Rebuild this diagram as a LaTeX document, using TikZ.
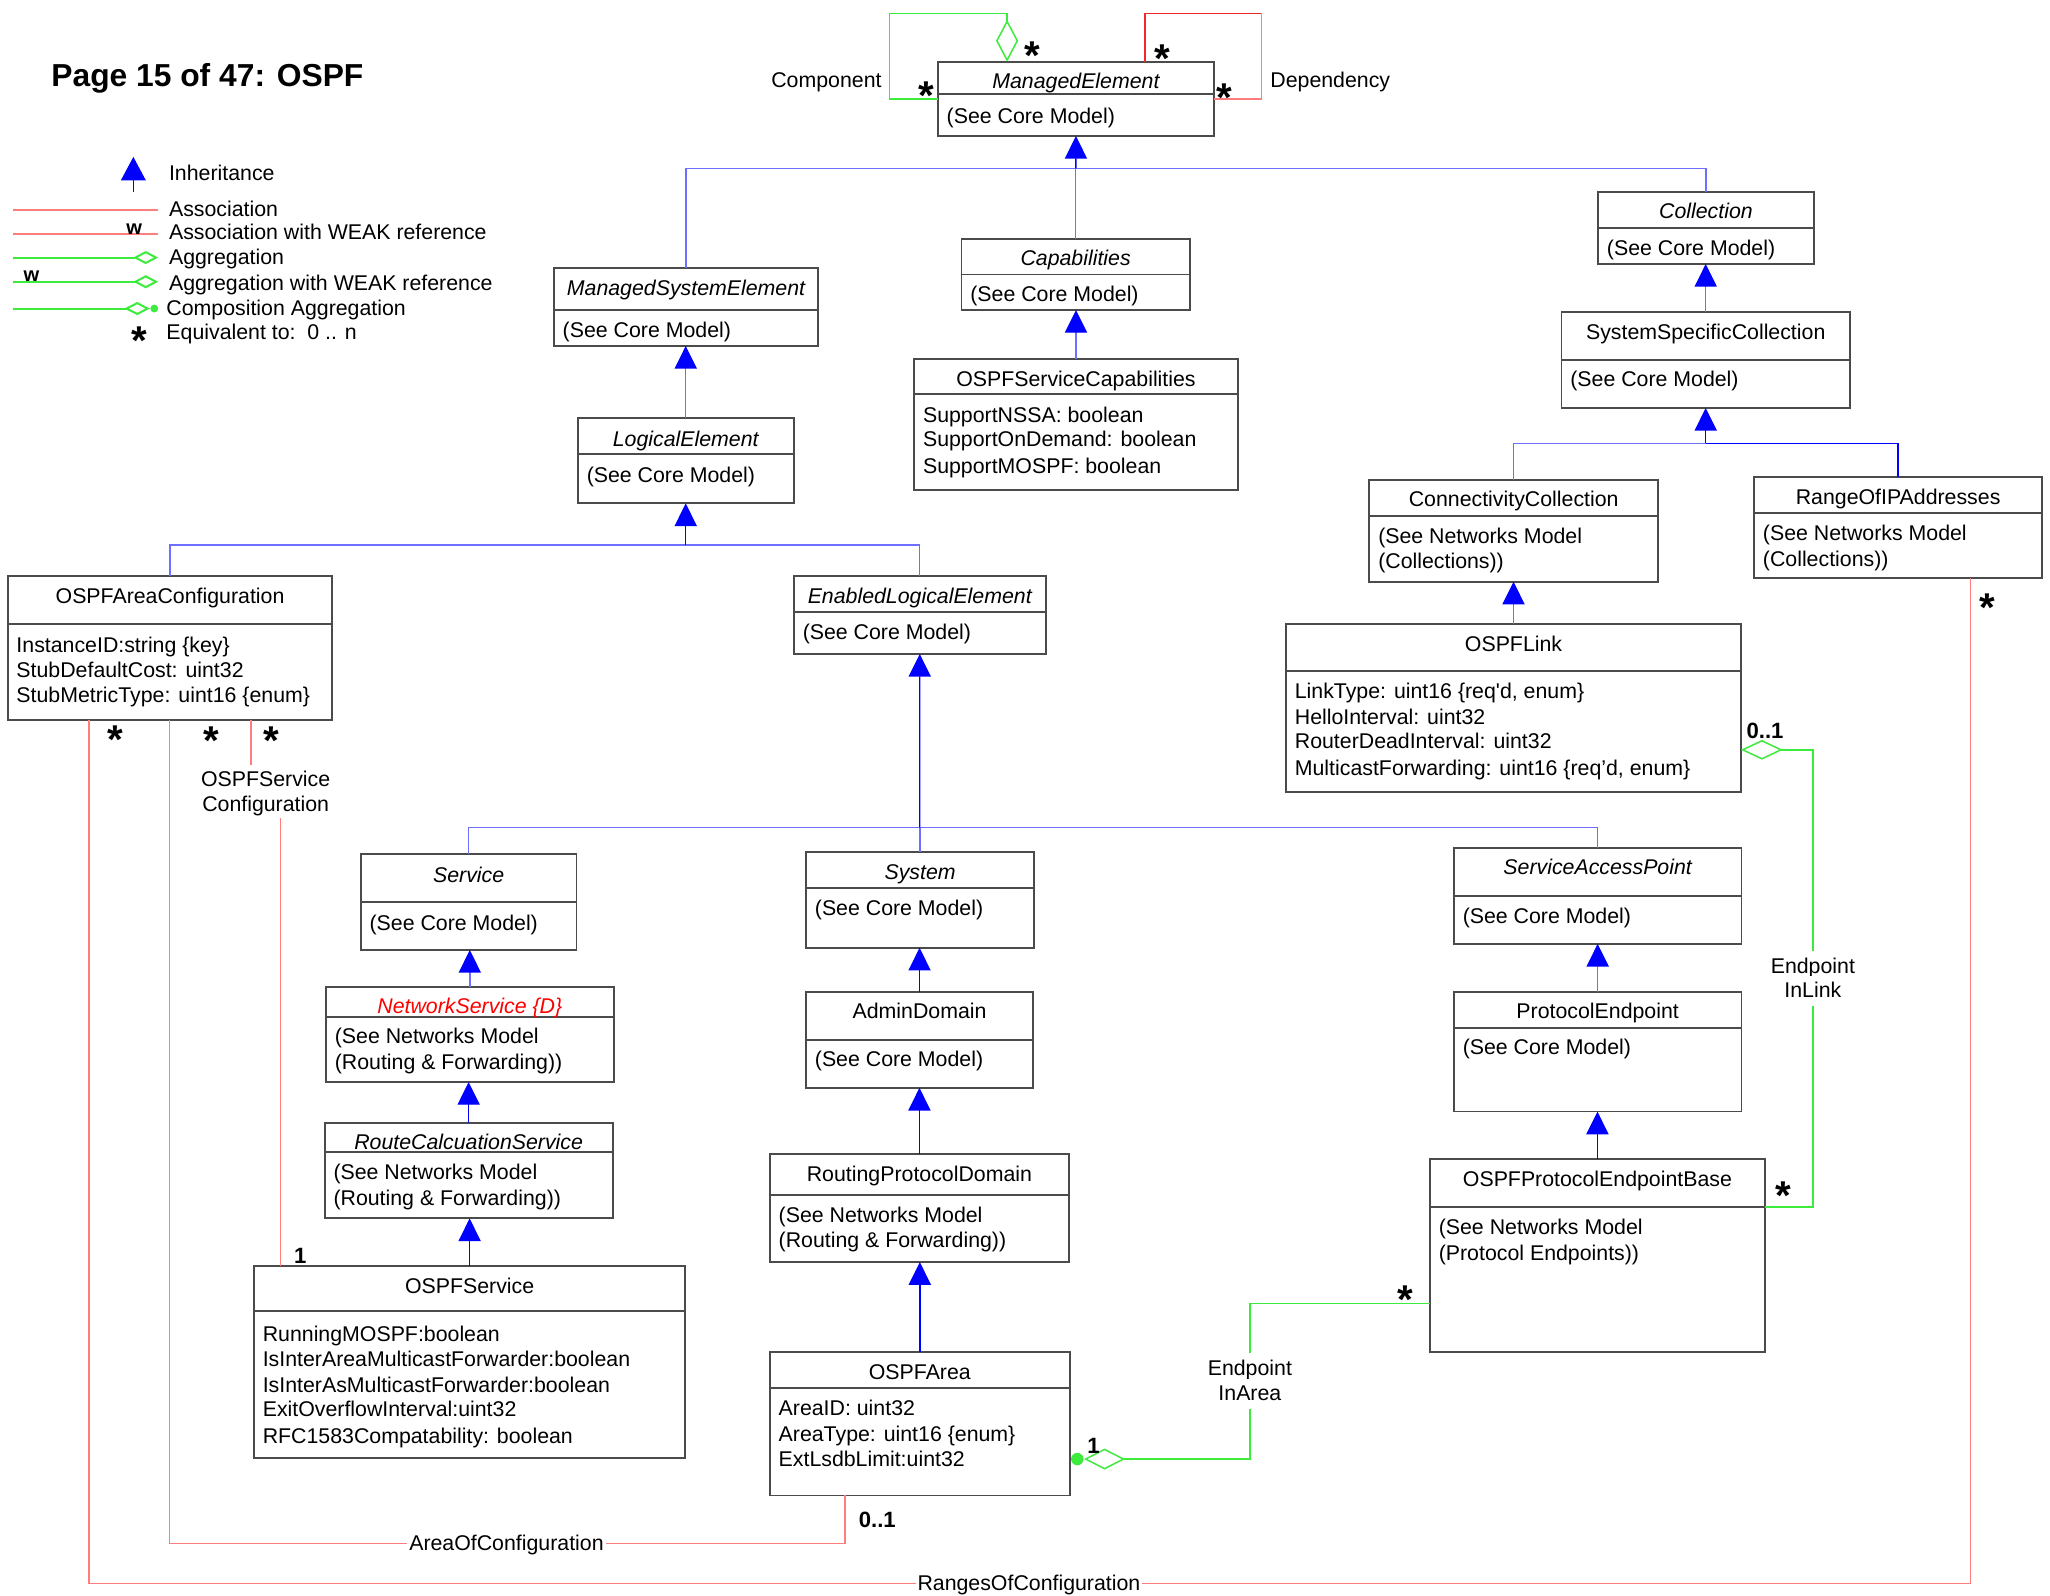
\documentclass[tikz,border=0pt]{standalone}
\usepackage{fontspec}
\setmainfont{Liberation Sans}
\usetikzlibrary{arrows.meta,fit}
\definecolor{inhlc}{RGB}{110,110,255}
\definecolor{inhdc}{RGB}{0,0,255}
\definecolor{assocc}{RGB}{255,125,125}
\definecolor{depc}{RGB}{240,40,40}
\definecolor{aggc}{RGB}{60,235,60}
\definecolor{boxc}{RGB}{75,75,75}
\definecolor{nsred}{RGB}{255,0,0}
\tikzset{
  box/.style={draw=boxc, line width=0.9pt, inner sep=0pt, outer sep=0pt},
  boxline/.style={draw=boxc, line width=0.9pt},
  txt/.style={inner sep=0pt, text height=7pt, text depth=0pt, font=\fontsize{10.6}{12.7}\selectfont},
  it/.style={font=\fontsize{10.6}{12.7}\selectfont\itshape},
  mult/.style={inner sep=0pt, text height=6pt, text depth=0pt, font=\bfseries\fontsize{20}{22}\selectfont},
  multn/.style={inner sep=0pt, text height=7.9pt, text depth=0pt, font=\bfseries\fontsize{11}{13}\selectfont},
  wst/.style={inner sep=0pt, font=\bfseries\fontsize{10}{12}\selectfont, anchor=base},
  inhl/.style={draw=inhlc, line width=0.7pt},
  inhd/.style={draw=inhdc, line width=0.7pt},
  inhtip/.style={-{Triangle[length=11.3pt,width=11pt,color=inhdc]}},
  assocline/.style={draw=assocc, line width=0.75pt},
  depline/.style={draw=depc, line width=0.75pt},
  aggline/.style={draw=aggc, line width=0.75pt},
  lab/.style={txt, fill=white, inner xsep=1pt},
  vlab/.style={txt, fill=white, inner xsep=1pt, inner ysep=4pt},
}
\newcounter{tn}
\newcommand\T[4][]{\stepcounter{tn}\node[txt,#1] (t\arabic{tn}) at (#2,#3) {#4};}
\newcommand\cls[6]{\node[box, fit={(#2,#3) (#4,#5)}] (#1) {};\draw[boxline] (#2,#6) -- (#4,#6);}
\newcommand\ST[3]{\node[mult, anchor=base] (#1) at (#2,#3+17) {\smash{*}};}
\newcommand\NM[4]{\node[multn] (#1) at (#2,#3) {#4};}
\begin{document}
\begin{tikzpicture}[x=0.65pt,y=-0.65pt]
\useasboundingbox (0,0) rectangle (1568,1220);

% ---------- title ----------
\node[font=\bfseries\fontsize{15.8}{19}\selectfont, anchor=base west, inner sep=0pt] (title) at (39,66) {Page 15 of 47: OSPF};

% ---------- legend ----------
\coordinate (lgI1) at (102,147); \coordinate (lgI2) at (102,120);
\draw[inhd, -{Triangle[length=11.7pt,width=12.3pt,color=inhdc]}] (lgI1) -- (lgI2);
\T[anchor=west]{129}{132.6}{Inheritance}
\coordinate (lgA1) at (10,160.6); \coordinate (lgA2) at (121,160.6);
\draw[assocline, line width=1pt] (lgA1) -- (lgA2);
\T[anchor=west]{129}{160}{Association}
\coordinate (lgW1) at (10,179); \coordinate (lgW2) at (121,179);
\draw[assocline, line width=1pt] (lgW1) -- (lgW2);
\node[wst] (lgw1) at (102.6,179) {w};
\T[anchor=west]{129}{178}{Association with WEAK reference}
\coordinate (lgG1) at (10,197); \coordinate (lgG2) at (121,197);
\draw[aggline, line width=1pt, -{Diamond[open,length=12.4pt,width=6.5pt]}] (lgG1) -- (lgG2);
\T[anchor=west]{129}{197}{Aggregation}
\coordinate (lgGW1) at (10,215.5); \coordinate (lgGW2) at (121,215.5);
\draw[aggline, line width=1pt, -{Diamond[open,length=12.4pt,width=6.5pt]}] (lgGW1) -- (lgGW2);
\node[wst] (lgw2) at (24,215.5) {w};
\T[anchor=west]{129}{217}{Aggregation with WEAK reference}
\coordinate (lgC1) at (10,236);
\node[circle, fill=aggc, inner sep=0pt, minimum size=3.9pt] (lgcir) at (118,236) {};
\draw[aggline, line width=1pt, -{Diamond[open,length=12.7pt,width=6.5pt]}] (lgC1) -- (lgcir.west);
\T[anchor=west]{127}{236}{Composition Aggregation}
\ST{lgst}{106.5}{254}
\T[anchor=west]{127}{254}{Equivalent to:\ \ 0 .. n}

% ---------- classes ----------
\cls{me}{717.3}{47.2}{928.6}{104}{72.1}
\T[it]{822.95}{62.5}{ManagedElement}
\T[anchor=west]{723.8}{89.2}{(See Core Model)}

\cls{caps}{735.4}{182.5}{910}{237.1}{210}
\T[it]{822.7}{198}{Capabilities}
\T[anchor=west]{741.9}{225.6}{(See Core Model)}

\cls{mse}{423.6}{205.2}{625.8}{264.6}{237.1}
\T[it]{524.7}{221}{ManagedSystemElement}
\T[anchor=west]{430.1}{252.9}{(See Core Model)}

\cls{coll}{1222.3}{146.9}{1387.4}{201.9}{174.4}
\T[it]{1304.85}{161.9}{Collection}
\T[anchor=west]{1228.8}{190}{(See Core Model)}

\cls{ssc}{1194.3}{238.4}{1415}{312}{275.6}
\T{1304.65}{254.2}{SystemSpecificCollection}
\T[anchor=west]{1200.8}{290.6}{(See Core Model)}

\cls{osc}{699.2}{274.6}{946.8}{374.8}{301.6}
\T{823}{289.9}{OSPFServiceCapabilities}
\T[anchor=west]{705.7}{317.4}{SupportNSSA: boolean}
\T[anchor=west]{705.7}{336.5}{SupportOnDemand: boolean}
\T[anchor=west]{705.7}{356.4}{SupportMOSPF: boolean}

\cls{le}{442}{320}{607}{385}{347.5}
\T[it]{524.5}{335.8}{LogicalElement}
\T[anchor=west]{448.5}{363.3}{(See Core Model)}

\cls{cc}{1047.4}{367.1}{1268.2}{444.9}{394.7}
\T{1157.8}{382.4}{ConnectivityCollection}
\T[anchor=west]{1053.9}{410}{(See Networks Model}
\T[anchor=west]{1053.9}{429.6}{(Collections))}

\cls{roip}{1341.6}{364.6}{1562}{442.3}{392.1}
\T{1451.8}{380.4}{RangeOfIPAddresses}
\T[anchor=west]{1348.1}{408}{(See Networks Model}
\T[anchor=west]{1348.1}{427.8}{(Collections))}

\cls{oac}{6.1}{440.3}{254}{550.7}{477.3}
\T{130.05}{455.9}{OSPFAreaConfiguration}
\T[anchor=west]{12.3}{493.4}{InstanceID:string \{key\}}
\T[anchor=west]{12.3}{512.5}{StubDefaultCost: uint32}
\T[anchor=west]{12.3}{531.6}{StubMetricType: uint16 \{enum\}}

\cls{ele}{607.2}{440.3}{799.8}{500.2}{468.1}
\T[it]{703.5}{456.4}{EnabledLogicalElement}
\T[anchor=west]{613.7}{483.6}{(See Core Model)}

\cls{link}{983.7}{477.3}{1331.6}{605.5}{513}
\T{1157.65}{492.6}{OSPFLink}
\T[anchor=west]{990.1}{529}{LinkType: uint16 \{req\textquotesingle d, enum\}}
\T[anchor=west]{990.1}{548.7}{HelloInterval: uint32}
\T[anchor=west]{990.1}{567.3}{RouterDeadInterval: uint32}
\T[anchor=west]{990.1}{587.7}{MulticastForwarding: uint16 \{req’d, enum\}}

\cls{svc}{275.9}{653.2}{441}{726.6}{690}
\T[it]{358.45}{669.3}{Service}
\T[anchor=west]{282.4}{706}{(See Core Model)}

\cls{sys}{616.5}{651.7}{791}{724.9}{679}
\T[it]{703.75}{667}{System}
\T[anchor=west]{623}{694.5}{(See Core Model)}

\cls{sap}{1112}{648.5}{1332}{721.9}{685.4}
\T[it]{1222}{663.8}{ServiceAccessPoint}
\T[anchor=west]{1118.5}{700.6}{(See Core Model)}

\cls{ns}{249.3}{754.7}{469.4}{827.6}{777.6}
\T[it, text=nsred]{359.35}{770}{NetworkService \{D\}}
\T[anchor=west]{255.8}{793}{(See Networks Model}
\T[anchor=west]{255.8}{812.5}{(Routing \& Forwarding))}

\cls{adm}{616.5}{758.7}{790.2}{832}{795.5}
\T{703.35}{774}{AdminDomain}
\T[anchor=west]{623}{810.5}{(See Core Model)}

\cls{pe}{1112}{758.8}{1332}{850.2}{786}
\T{1222}{773.7}{ProtocolEndpoint}
\T[anchor=west]{1118.5}{801.4}{(See Core Model)}

\cls{rcs}{248.3}{858.7}{468.6}{931.9}{881.4}
\T[it]{358.45}{874}{RouteCalcuationService}
\T[anchor=west]{254.8}{897}{(See Networks Model}
\T[anchor=west]{254.8}{916.4}{(Routing \& Forwarding))}

\cls{rpd}{588.8}{882.6}{817.7}{965.3}{914}
\T{703.25}{898}{RoutingProtocolDomain}
\T[anchor=west]{595.3}{930}{(See Networks Model}
\T[anchor=west]{595.3}{949}{(Routing \& Forwarding))}

\cls{peb}{1093.7}{886.5}{1350}{1034}{923}
\T{1221.85}{902.2}{OSPFProtocolEndpointBase}
\T[anchor=west]{1100.2}{938.5}{(See Networks Model}
\T[anchor=west]{1100.2}{959}{(Protocol Endpoints))}

\cls{osvc}{194.2}{968.6}{524.2}{1115.4}{1003}
\T{359.2}{984}{OSPFService}
\T[anchor=west]{200.7}{1020.6}{RunningMOSPF:boolean}
\T[anchor=west]{200.7}{1039.7}{IsInterAreaMulticastForwarder:boolean}
\T[anchor=west]{200.7}{1059.4}{IsInterAsMulticastForwarder:boolean}
\T[anchor=west]{200.7}{1078}{ExitOverflowInterval:uint32}
\T[anchor=west]{200.7}{1098.4}{RFC1583Compatability: boolean}

\cls{oarea}{588.8}{1033.9}{818.3}{1143.8}{1061.7}
\T{703.55}{1049.5}{OSPFArea}
\T[anchor=west]{595.3}{1077}{AreaID: uint32}
\T[anchor=west]{595.3}{1097}{AreaType: uint16 \{enum\}}
\T[anchor=west]{595.3}{1116}{ExtLsdbLimit:uint32}

% ---------- inheritance ----------
\coordinate (bus1) at (822.95,128.7);
\coordinate (bus2) at (1304.65,339);
\coordinate (bus3) at (524.5,417);
\coordinate (bus4) at (703.5,633);

\draw[inhl] (mse.north) |- (bus1);
\draw[inhl] (coll.north) |- (bus1);
\draw[inhl] (caps.north) -- (caps.north |- bus1);
\draw[inhd, inhtip] (bus1) -- (me.south);

\draw[inhl, inhtip] (osc.north) -- (osc.north |- caps.south);
\draw[inhl, inhtip] (ssc.north) -- (ssc.north |- coll.south);

\draw[inhl] (cc.north) |- (bus2);
\draw[inhd] (roip.north) |- (bus2);
\draw[inhd, inhtip] (bus2) -- (ssc.south);

\draw[inhl, inhtip] (le.north) -- (le.north |- mse.south);

\draw[inhl] (oac.north) |- (bus3);
\draw[inhl] (ele.north) |- (bus3);
\draw[inhd, inhtip] (bus3) -- (le.south);

\draw[inhl, inhtip] (link.north) -- (link.north |- cc.south);

\draw[inhl] (svc.north) |- (bus4);
\draw[inhl] (sap.north) |- (bus4);
\draw[inhl] (sys.north) -- (sys.north |- bus4);
\draw[inhd, inhtip] (bus4) -- (ele.south);

\draw[inhl, inhtip] (ns.north) -- (ns.north |- svc.south);
\draw[inhd, inhtip] (rcs.north) -- (rcs.north |- ns.south);
\draw[inhd, inhtip] (osvc.north) -- (osvc.north |- rcs.south);
\draw[inhd, inhtip] (adm.north) -- (adm.north |- sys.south);
\draw[inhd, inhtip] (rpd.north) -- (rpd.north |- adm.south);
\draw[inhd, inhtip] (oarea.north) -- (oarea.north |- rpd.south);
\draw[inhl, inhtip] (pe.north) -- (pe.north |- sap.south);
\draw[inhd, inhtip] (peb.north) -- (peb.north |- pe.south);

% ---------- Component / Dependency ----------
\coordinate (cmpT) at (770.3,10.2);
\coordinate (cmpL) at (680.4,10.2);
\draw[aggline, {Diamond[open,length=20.8pt,width=11pt]}-] (cmpT |- me.north) -- (cmpT) -- (cmpL) |- (me.west);
\T[anchor=east]{674.6}{61.2}{Component}
\ST{m1}{708.7}{66.8}
\ST{m2}{789.5}{36.5}

\coordinate (depT) at (875.8,10.2);
\coordinate (depR) at (964.8,10.2);
\draw[depline] (depT |- me.north) -- (depT) -- (depR);
\draw[assocline] (depR) |- (me.east);
\T[anchor=west]{971.4}{61.2}{Dependency}
\ST{m3}{888.7}{38.5}
\ST{m4}{936.2}{68.3}

% ---------- associations from OSPFAreaConfiguration ----------
\coordinate (r1) at (68.2,1211);
\coordinate (r2) at (1507,1211);
\draw[assocline] (r1 |- oac.south) -- (r1) -- (r2) -- (r2 |- roip.south);
\T[lab]{787}{1211}{RangesOfConfiguration}

\coordinate (a1) at (129.8,1180.7);
\coordinate (a2) at (646.2,1180.7);
\draw[assocline] (a1 |- oac.south) -- (a1) -- (a2) -- (a2 |- oarea.south);
\T[lab]{387.4}{1180.7}{AreaOfConfiguration}

\coordinate (s1) at (192,585);
\coordinate (s2) at (214.6,626);
\draw[assocline] (s1 |- oac.south) -- (s1);
\draw[assocline] (s2) -- (s2 |- osvc.north);
\T{203.2}{596}{OSPFService}
\T{203.2}{615}{Configuration}

\ST{m5}{88}{559.6}
\ST{m6}{161.5}{560}
\ST{m7}{207.6}{560}
\ST{m8}{1520}{458}
\NM{n1}{229.7}{960}{1}
\NM{n3}{671}{1162}{0..1}

% ---------- EndpointInLink ----------
\coordinate (l1) at (1386.6,573.5);
\coordinate (l2) at (1386.6,923);
\draw[aggline, {Diamond[open,length=20.8pt,width=9.8pt]}-] (l1 -| link.east) -- (l1) -- (l2) -- (l2 -| peb.east);
\T[vlab]{1386.6}{739}{Endpoint}
\T[vlab]{1386.6}{757.7}{InLink}
\NM{n4}{1350}{559}{0..1}
\ST{m9}{1364}{908}

% ---------- EndpointInArea ----------
\node[circle, fill=aggc, inner sep=0pt, minimum size=6.2pt] (cir) at (824,1116) {};
\coordinate (e1) at (956,1116);
\coordinate (e2) at (956,997);
\draw[aggline, {Diamond[open,length=20.5pt,width=10.4pt]}-] (cir.east) -- (e1) -- (e2) -- (e2 -| peb.west);
\T[vlab]{956}{1046.5}{Endpoint}
\T[vlab]{956}{1066}{InArea}
\NM{n2}{836.4}{1106}{1}
\ST{m10}{1074.7}{987.5}

\end{tikzpicture}
\end{document}
